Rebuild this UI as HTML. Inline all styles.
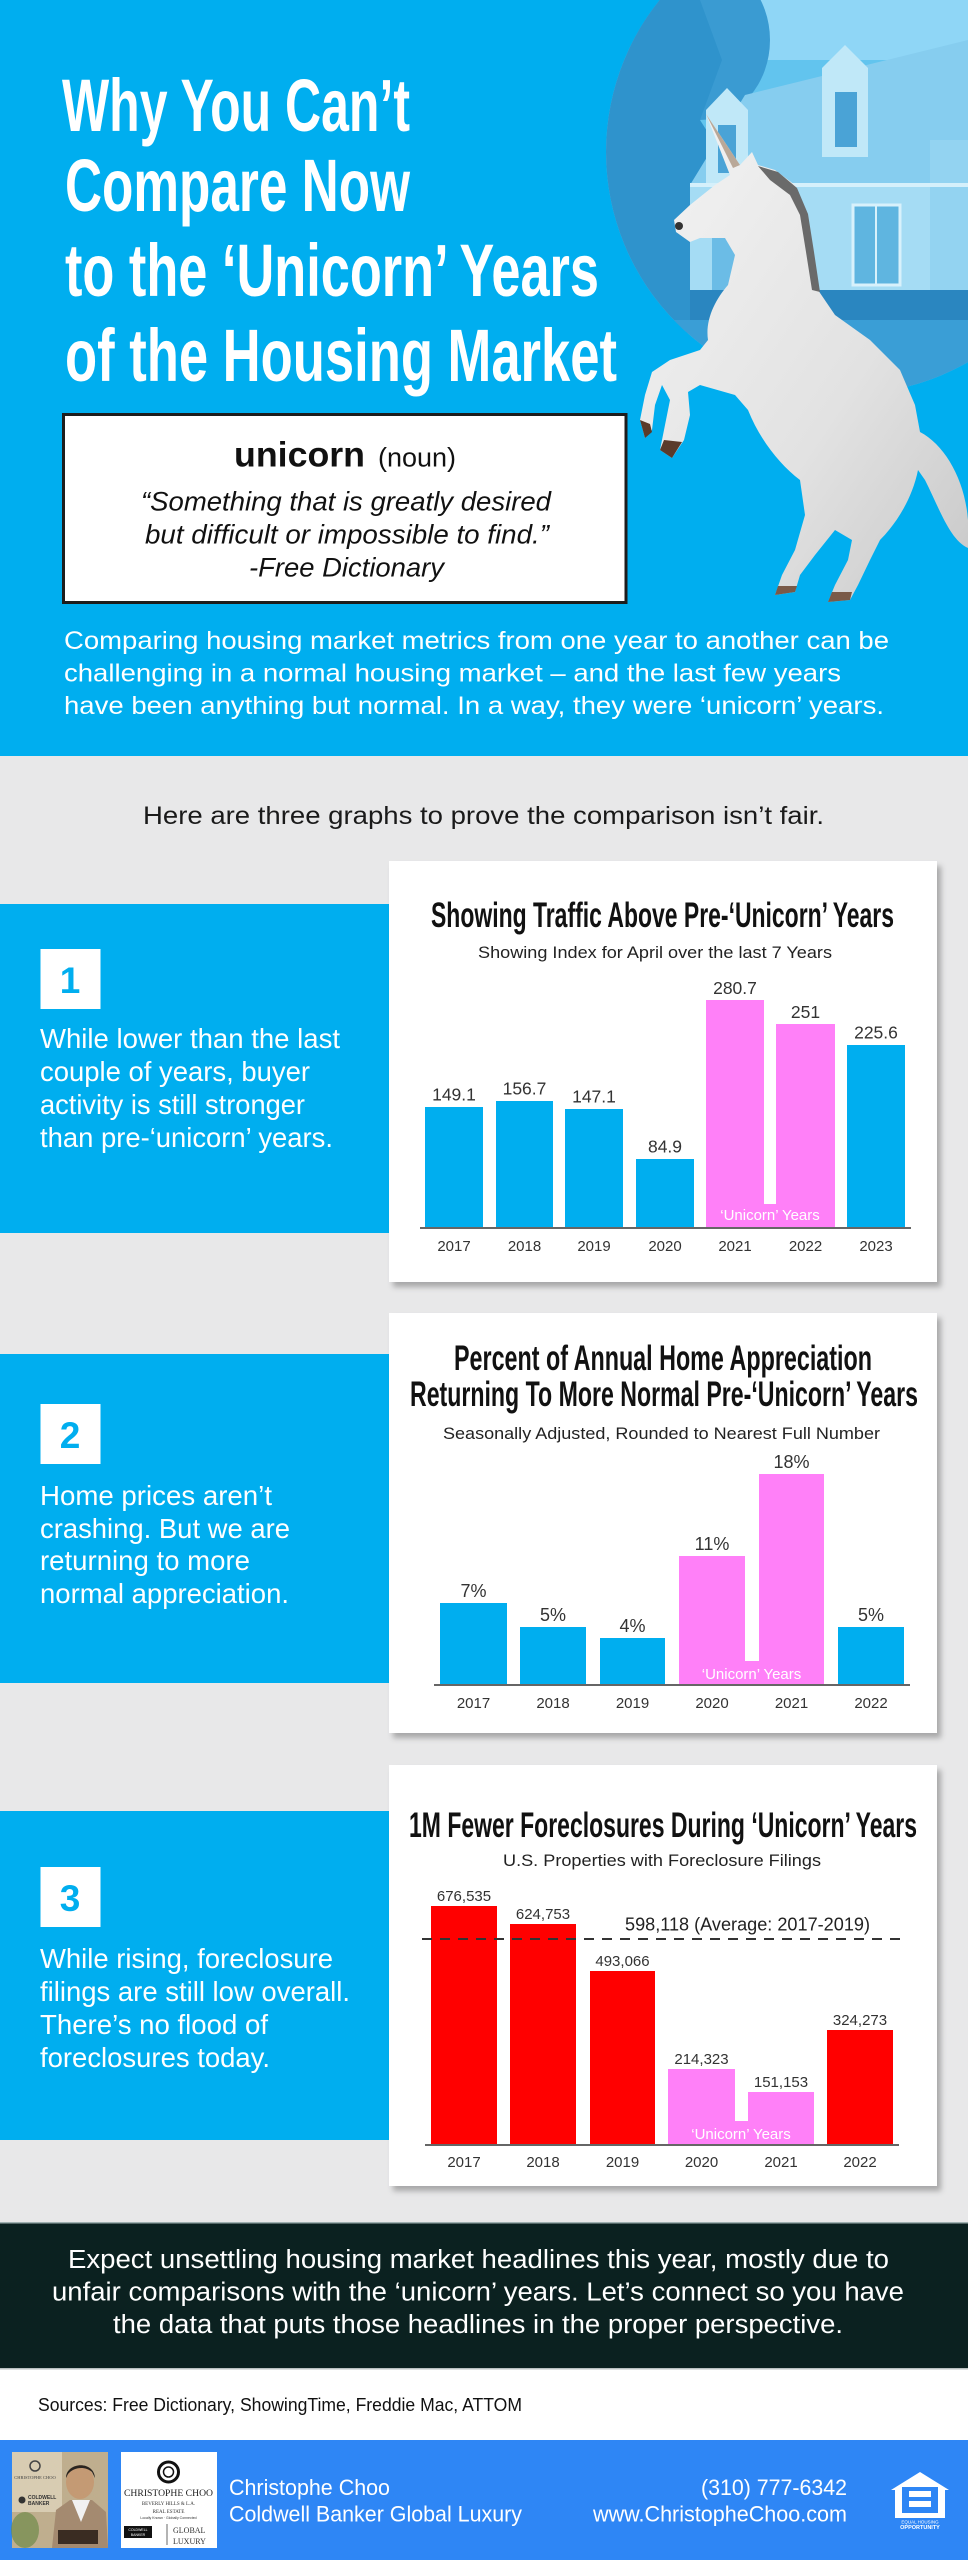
<!DOCTYPE html>
<html>
<head>
<meta charset="utf-8">
<style>
html,body{margin:0;padding:0;background:#e8e8e9;}
svg{display:block;}
.sans{font-family:"Liberation Sans",Arial,sans-serif;}
.cond{font-family:"Liberation Sans Narrow","Liberation Sans",Arial,sans-serif;font-weight:bold;}
.serif{font-family:"Liberation Serif",serif;}
</style>
</head>
<body>
<svg xmlns="http://www.w3.org/2000/svg" width="968" height="2560" viewBox="0 0 968 2560">
<defs>
  <filter id="sh" x="-5%" y="-5%" width="115%" height="115%">
    <feDropShadow dx="4" dy="5" stdDeviation="3" flood-color="#000" flood-opacity="0.28"/>
  </filter>
  <clipPath id="circ"><circle cx="848" cy="152" r="242"/></clipPath>
  <linearGradient id="horseG" x1="0" y1="0" x2="1" y2="1">
    <stop offset="0" stop-color="#f4f4f4"/>
    <stop offset="0.6" stop-color="#e2e2e2"/>
    <stop offset="1" stop-color="#c8c8c8"/>
  </linearGradient>
</defs>

<!-- backgrounds -->
<rect x="0" y="0" width="968" height="756" fill="#00aeef"/>
<rect x="0" y="756" width="968" height="1467" fill="#e8e8e9"/>
<rect x="0" y="2223" width="968" height="146" fill="#0b2120"/>
<rect x="0" y="2222" width="968" height="1.5" fill="#9fb0b0"/>
<rect x="0" y="2369" width="968" height="71" fill="#ffffff"/>
<rect x="0" y="2368" width="968" height="1.5" fill="#b8c0c0"/>
<rect x="0" y="2440" width="968" height="120" fill="#2e86f5"/>

<!-- header circle photo -->
<g clip-path="url(#circ)">
  <rect x="600" y="0" width="368" height="400" fill="#62c4ee"/>
  <rect x="760" y="0" width="208" height="60" fill="#8fd6f6"/>
  <ellipse cx="700" cy="40" rx="70" ry="80" fill="#3a9bd2"/>
  <path d="M600 0 L700 0 L722 60 L700 120 L738 180 L702 250 L692 330 L600 400 Z" fill="#2f93cc"/>
  <polygon points="690,185 745,95 968,40 968,185" fill="#86cdef"/>
  <rect x="690" y="185" width="278" height="108" fill="#a5dcf4"/>
  <rect x="930" y="140" width="38" height="155" fill="#93d3f1"/>
  <polygon points="706,186 706,110 727,88 748,110 748,186" fill="#c0e8f8"/>
  <rect x="718" y="125" width="18" height="48" fill="#4aa3d6"/>
  <polygon points="822,157 822,68 845,45 868,68 868,157" fill="#c0e8f8"/>
  <rect x="835" y="92" width="22" height="55" fill="#4aa3d6"/>
  <rect x="690" y="183" width="278" height="4" fill="#d5f0fb"/>
  <rect x="853" y="205" width="47" height="80" fill="#5fb5e0" stroke="#d8f1fb" stroke-width="3"/>
  <line x1="876" y1="205" x2="876" y2="285" stroke="#d8f1fb" stroke-width="2"/>
  <rect x="712" y="210" width="30" height="80" fill="#6bbce6"/>
  <rect x="690" y="290" width="278" height="32" fill="#2a86c0"/>
  <rect x="600" y="320" width="368" height="80" fill="#3a9ed6"/>
</g>

<!-- unicorn -->
<path d="M706 114 L740 165 L752 152 L758 165 L775 170 L795 185 L806 210 L812 250 L818 290 L835 315 L870 340 L900 370 L915 405 L920 432 C945 445 965 480 968 520 L968 548 C950 540 940 510 925 480 L918 470 C912 500 895 525 880 540 L870 560 L858 585 L850 600 L828 602 L835 585 L848 560 L852 540 L835 530 L815 555 L800 575 L795 592 L775 595 L782 575 L795 550 L805 515 L800 480 C780 465 760 440 748 410 L735 395 L700 385 L688 392 L690 415 L684 440 L672 458 L660 450 L664 430 L670 400 L662 385 L655 405 L652 430 L645 438 L640 420 L645 395 L652 372 L670 360 L700 350 L708 340 C705 320 715 300 728 285 L735 255 L725 238 L700 238 L690 242 L676 232 L674 220 L690 205 L715 185 L730 175 Z" fill="url(#horseG)"/>
<path d="M758 166 L778 172 L797 188 L808 214 L814 252 L820 292 L812 290 L806 252 L800 215 L790 195 L770 180 Z" fill="#6a6a6a"/>
<path d="M706 114 L740 165 L733 168 Z" fill="#b9a898"/>
<circle cx="679" cy="226" r="4" fill="#333"/>
<path d="M672 458 L660 450 L664 440 L682 442 Z" fill="#5a3a2a"/>
<path d="M645 438 L640 420 L650 424 L652 432 Z" fill="#5a3a2a"/>
<path d="M850 600 L828 602 L832 592 L852 592 Z" fill="#7a5a48"/>
<path d="M795 592 L775 595 L778 586 L797 586 Z" fill="#7a5a48"/>

<!-- header title -->
<g class="cond" fill="#ffffff" font-size="74">
  <text x="62" y="131" textLength="348" lengthAdjust="spacingAndGlyphs">Why You Can’t</text>
  <text x="65" y="211" textLength="345" lengthAdjust="spacingAndGlyphs">Compare Now</text>
  <text x="65" y="296" textLength="534" lengthAdjust="spacingAndGlyphs">to the ‘Unicorn’ Years</text>
  <text x="65" y="381" textLength="552" lengthAdjust="spacingAndGlyphs">of the Housing Market</text>
</g>

<!-- definition box -->
<rect x="63.5" y="414.5" width="562.5" height="188" fill="#ffffff" stroke="#1d1d1d" stroke-width="3"/>
<g class="sans" fill="#111">
  <text x="234" y="466.5" font-size="35" font-weight="bold" textLength="131" lengthAdjust="spacingAndGlyphs">unicorn</text>
  <text x="378" y="466.5" font-size="27" textLength="78" lengthAdjust="spacingAndGlyphs">(noun)</text>
  <text x="141" y="510.5" font-size="27" font-style="italic" textLength="410" lengthAdjust="spacingAndGlyphs">“Something that is greatly desired</text>
  <text x="145" y="543.5" font-size="27" font-style="italic" textLength="404" lengthAdjust="spacingAndGlyphs">but difficult or impossible to find.”</text>
  <text x="249" y="576.5" font-size="27" font-style="italic" textLength="195" lengthAdjust="spacingAndGlyphs">-Free Dictionary</text>
</g>

<!-- intro -->
<g class="sans" fill="#ffffff" font-size="25">
  <text x="64" y="649" textLength="825" lengthAdjust="spacingAndGlyphs">Comparing housing market metrics from one year to another can be</text>
  <text x="64" y="681.5" textLength="777" lengthAdjust="spacingAndGlyphs">challenging in a normal housing market – and the last few years</text>
  <text x="64" y="714" textLength="820" lengthAdjust="spacingAndGlyphs">have been anything but normal. In a way, they were ‘unicorn’ years.</text>
</g>

<text class="sans" x="143" y="824" font-size="25" fill="#1a1a1a" textLength="681" lengthAdjust="spacingAndGlyphs">Here are three graphs to prove the comparison isn’t fair.</text>

<!-- left panels -->
<rect x="0" y="904" width="400" height="329" fill="#00aeef"/>
<rect x="0" y="1354" width="400" height="329" fill="#00aeef"/>
<rect x="0" y="1811" width="400" height="329" fill="#00aeef"/>

<rect x="40.5" y="949" width="60" height="60" fill="#fff"/>
<rect x="40.5" y="1404" width="60" height="60" fill="#fff"/>
<rect x="40.5" y="1867" width="60" height="60" fill="#fff"/>
<g class="sans" font-weight="bold" font-size="37" fill="#00aeef" text-anchor="middle">
  <text x="70" y="993">1</text>
  <text x="70" y="1448">2</text>
  <text x="70" y="1911">3</text>
</g>

<g class="sans" fill="#ffffff" font-size="28">
  <text x="40" y="1048" textLength="300" lengthAdjust="spacingAndGlyphs">While lower than the last</text>
  <text x="40" y="1081" textLength="270" lengthAdjust="spacingAndGlyphs">couple of years, buyer</text>
  <text x="40" y="1114" textLength="265" lengthAdjust="spacingAndGlyphs">activity is still stronger</text>
  <text x="40" y="1147" textLength="293" lengthAdjust="spacingAndGlyphs">than pre-‘unicorn’ years.</text>

  <text x="40" y="1505" textLength="232" lengthAdjust="spacingAndGlyphs">Home prices aren’t</text>
  <text x="40" y="1538" textLength="250" lengthAdjust="spacingAndGlyphs">crashing. But we are</text>
  <text x="40" y="1570" textLength="210" lengthAdjust="spacingAndGlyphs">returning to more</text>
  <text x="40" y="1603" textLength="249" lengthAdjust="spacingAndGlyphs">normal appreciation.</text>

  <text x="40" y="1968" textLength="293" lengthAdjust="spacingAndGlyphs">While rising, foreclosure</text>
  <text x="40" y="2001" textLength="310" lengthAdjust="spacingAndGlyphs">filings are still low overall.</text>
  <text x="40" y="2034" textLength="228" lengthAdjust="spacingAndGlyphs">There’s no flood of</text>
  <text x="40" y="2067" textLength="230" lengthAdjust="spacingAndGlyphs">foreclosures today.</text>
</g>

<!-- cards -->
<rect x="389" y="861" width="548" height="421" fill="#fff" filter="url(#sh)"/>
<rect x="389" y="1313" width="548" height="420" fill="#fff" filter="url(#sh)"/>
<rect x="389" y="1765" width="548" height="421" fill="#fff" filter="url(#sh)"/>

<!-- chart 1 -->
<text class="cond" x="431" y="927" font-size="35" fill="#111" textLength="463" lengthAdjust="spacingAndGlyphs">Showing Traffic Above Pre-‘Unicorn’ Years</text>
<text class="sans" x="478" y="958" font-size="17" fill="#222" textLength="354" lengthAdjust="spacingAndGlyphs">Showing Index for April over the last 7 Years</text>
<g>
  <rect x="425" y="1107" width="58" height="121" fill="#00aeef"/>
  <rect x="496" y="1101" width="57" height="127" fill="#00aeef"/>
  <rect x="565" y="1109" width="58" height="119" fill="#00aeef"/>
  <rect x="636" y="1159" width="58" height="69" fill="#00aeef"/>
  <rect x="706" y="1000" width="58" height="228" fill="#ff80f8"/>
  <rect x="776" y="1024" width="59" height="204" fill="#ff80f8"/>
  <rect x="706" y="1204" width="129" height="24" fill="#ff80f8"/>
  <rect x="847" y="1045" width="58" height="183" fill="#00aeef"/>
  <line x1="420" y1="1228" x2="911" y2="1228" stroke="#666" stroke-width="2"/>
</g>
<g class="sans" font-size="17.5" fill="#333" text-anchor="middle">
  <text x="454" y="1100.5">149.1</text>
  <text x="524.5" y="1094.5">156.7</text>
  <text x="594" y="1102.5">147.1</text>
  <text x="665" y="1152.5">84.9</text>
  <text x="735" y="994">280.7</text>
  <text x="805.5" y="1018">251</text>
  <text x="876" y="1038.5">225.6</text>
</g>
<text class="sans" x="770" y="1220" font-size="15" fill="#fff" text-anchor="middle">‘Unicorn’ Years</text>
<g class="sans" font-size="15" fill="#333" text-anchor="middle">
  <text x="454" y="1251">2017</text>
  <text x="524.5" y="1251">2018</text>
  <text x="594" y="1251">2019</text>
  <text x="665" y="1251">2020</text>
  <text x="735" y="1251">2021</text>
  <text x="805.5" y="1251">2022</text>
  <text x="876" y="1251">2023</text>
</g>

<!-- chart 2 -->
<text class="cond" x="454" y="1370" font-size="35" fill="#111" textLength="418" lengthAdjust="spacingAndGlyphs">Percent of Annual Home Appreciation</text>
<text class="cond" x="410" y="1406" font-size="35" fill="#111" textLength="508" lengthAdjust="spacingAndGlyphs">Returning To More Normal Pre-‘Unicorn’ Years</text>
<text class="sans" x="443" y="1439" font-size="17" fill="#222" textLength="437" lengthAdjust="spacingAndGlyphs">Seasonally Adjusted, Rounded to Nearest Full Number</text>
<g>
  <rect x="440" y="1603" width="67" height="82" fill="#00aeef"/>
  <rect x="520" y="1627" width="66" height="58" fill="#00aeef"/>
  <rect x="600" y="1638" width="65" height="47" fill="#00aeef"/>
  <rect x="679" y="1556" width="66" height="129" fill="#ff80f8"/>
  <rect x="759" y="1474" width="65" height="211" fill="#ff80f8"/>
  <rect x="679" y="1661" width="145" height="24" fill="#ff80f8"/>
  <rect x="838" y="1627" width="66" height="58" fill="#00aeef"/>
  <line x1="434" y1="1685" x2="910" y2="1685" stroke="#666" stroke-width="2"/>
</g>
<g class="sans" font-size="18" fill="#333" text-anchor="middle">
  <text x="473.5" y="1597">7%</text>
  <text x="553" y="1621">5%</text>
  <text x="632.5" y="1632">4%</text>
  <text x="712" y="1550">11%</text>
  <text x="791.5" y="1468">18%</text>
  <text x="871" y="1621">5%</text>
</g>
<text class="sans" x="751.5" y="1679" font-size="15" fill="#fff" text-anchor="middle">‘Unicorn’ Years</text>
<g class="sans" font-size="15" fill="#333" text-anchor="middle">
  <text x="473.5" y="1708">2017</text>
  <text x="553" y="1708">2018</text>
  <text x="632.5" y="1708">2019</text>
  <text x="712" y="1708">2020</text>
  <text x="791.5" y="1708">2021</text>
  <text x="871" y="1708">2022</text>
</g>

<!-- chart 3 -->
<text class="cond" x="409" y="1837" font-size="35" fill="#111" textLength="508" lengthAdjust="spacingAndGlyphs">1M Fewer Foreclosures During ‘Unicorn’ Years</text>
<text class="sans" x="503" y="1866" font-size="17" fill="#222" textLength="318" lengthAdjust="spacingAndGlyphs">U.S. Properties with Foreclosure Filings</text>
<g>
  <rect x="431" y="1906" width="66" height="239" fill="#ff0000"/>
  <rect x="510" y="1924" width="66" height="221" fill="#ff0000"/>
  <rect x="590" y="1971" width="65" height="174" fill="#ff0000"/>
  <rect x="668" y="2069" width="67" height="76" fill="#ff80f8"/>
  <rect x="748" y="2092" width="66" height="53" fill="#ff80f8"/>
  <rect x="668" y="2121" width="146" height="24" fill="#ff80f8"/>
  <rect x="827" y="2030" width="66" height="115" fill="#ff0000"/>
  <line x1="425" y1="2145" x2="899" y2="2145" stroke="#666" stroke-width="2"/>
  <line x1="422" y1="1939" x2="903" y2="1939" stroke="#333" stroke-width="2" stroke-dasharray="10,8"/>
</g>
<text class="sans" x="625" y="1930.5" font-size="18" fill="#222" textLength="245" lengthAdjust="spacingAndGlyphs">598,118 (Average: 2017-2019)</text>
<g class="sans" font-size="15" fill="#333" text-anchor="middle">
  <text x="464" y="1901">676,535</text>
  <text x="543" y="1919">624,753</text>
  <text x="622.5" y="1966">493,066</text>
  <text x="701.5" y="2064">214,323</text>
  <text x="781" y="2087">151,153</text>
  <text x="860" y="2025">324,273</text>
</g>
<text class="sans" x="741" y="2139" font-size="15" fill="#fff" text-anchor="middle">‘Unicorn’ Years</text>
<g class="sans" font-size="15" fill="#333" text-anchor="middle">
  <text x="464" y="2167">2017</text>
  <text x="543" y="2167">2018</text>
  <text x="622.5" y="2167">2019</text>
  <text x="701.5" y="2167">2020</text>
  <text x="781" y="2167">2021</text>
  <text x="860" y="2167">2022</text>
</g>

<!-- bottom message -->
<g class="sans" fill="#ffffff" font-size="25.5">
  <text x="68" y="2268" textLength="821" lengthAdjust="spacingAndGlyphs">Expect unsettling housing market headlines this year, mostly due to</text>
  <text x="52" y="2300.5" textLength="852" lengthAdjust="spacingAndGlyphs">unfair comparisons with the ‘unicorn’ years. Let’s connect so you have</text>
  <text x="113" y="2333" textLength="730" lengthAdjust="spacingAndGlyphs">the data that puts those headlines in the proper perspective.</text>
</g>

<text class="sans" x="38" y="2411" font-size="18" fill="#111" textLength="484" lengthAdjust="spacingAndGlyphs">Sources: Free Dictionary, ShowingTime, Freddie Mac, ATTOM</text>

<!-- footer photo -->
<rect x="12" y="2452" width="96" height="96" fill="#bfae8e"/>
<rect x="12" y="2452" width="50" height="60" fill="#d8ccb2"/>
<ellipse cx="25" cy="2530" rx="14" ry="18" fill="#6f8a4a" opacity="0.7"/>
<path d="M52 2548 L56 2510 L70 2500 L92 2500 L106 2512 L108 2548 Z" fill="#a48a70"/>
<path d="M72 2500 L81 2522 L90 2500 Z" fill="#f1f1f1"/>
<ellipse cx="80" cy="2482" rx="14" ry="17" fill="#c49a74"/>
<path d="M66 2478 C66 2462 94 2460 95 2478 L92 2472 C85 2466 74 2467 68 2474 Z" fill="#2a2520"/>
<rect x="58" y="2530" width="40" height="14" fill="#3a2c22"/>
<circle cx="35" cy="2466" r="5" fill="none" stroke="#444" stroke-width="1.5"/>
<text class="serif" x="35" y="2479" font-size="4.5" fill="#444" text-anchor="middle">CHRISTOPHE CHOO</text>
<circle cx="22" cy="2500" r="3.5" fill="#333"/>
<text class="sans" x="28" y="2499" font-size="5" font-weight="bold" fill="#333">COLDWELL</text>
<text class="sans" x="28" y="2505" font-size="5" font-weight="bold" fill="#333">BANKER</text>

<!-- footer logo box -->
<rect x="121" y="2452" width="96" height="96" fill="#ffffff"/>
<circle cx="168.5" cy="2472" r="10" fill="none" stroke="#111" stroke-width="3"/>
<circle cx="168.5" cy="2472" r="5" fill="none" stroke="#111" stroke-width="1.5"/>
<text class="serif" x="124" y="2496" font-size="9" fill="#222" textLength="89" lengthAdjust="spacingAndGlyphs">CHRISTOPHE CHOO</text>
<text class="serif" x="168.5" y="2505" font-size="5" fill="#333" text-anchor="middle">BEVERLY HILLS &amp; L.A.</text>
<text class="serif" x="168.5" y="2513" font-size="5" fill="#333" text-anchor="middle">REAL ESTATE</text>
<text class="sans" x="168.5" y="2519" font-size="3.5" fill="#333" text-anchor="middle">Locally Known · Globally Connected</text>
<rect x="124" y="2526" width="28" height="12" fill="#111"/>
<text class="sans" x="138" y="2531" font-size="3.5" fill="#fff" text-anchor="middle">COLDWELL</text>
<text class="sans" x="138" y="2536" font-size="3.5" fill="#fff" text-anchor="middle">BANKER</text>
<line x1="167" y1="2524" x2="167" y2="2545" stroke="#444" stroke-width="0.8"/>
<text class="serif" x="173" y="2533" font-size="8" fill="#333">GLOBAL</text>
<text class="serif" x="173" y="2544" font-size="8" fill="#333">LUXURY</text>

<!-- footer text -->
<g class="sans" fill="#ffffff" font-size="22">
  <text x="229" y="2495" textLength="161" lengthAdjust="spacingAndGlyphs">Christophe Choo</text>
  <text x="229" y="2521.5" textLength="293" lengthAdjust="spacingAndGlyphs">Coldwell Banker Global Luxury</text>
  <text x="701" y="2495" textLength="146" lengthAdjust="spacingAndGlyphs">(310) 777-6342</text>
  <text x="593" y="2521.5" textLength="254" lengthAdjust="spacingAndGlyphs">www.ChristopheChoo.com</text>
</g>

<!-- equal housing -->
<polygon points="891,2490 920,2472 949,2490 945,2490 945,2518 895,2518 895,2490" fill="#ffffff"/>
<rect x="902" y="2487" width="36" height="26" fill="#2e86f5"/>
<rect x="909" y="2491" width="22" height="6" fill="#ffffff"/>
<rect x="909" y="2501" width="22" height="6" fill="#ffffff"/>
<text class="sans" x="920" y="2523.5" font-size="4.5" fill="#fff" text-anchor="middle">EQUAL HOUSING</text>
<text class="sans" x="920" y="2529" font-size="5.5" font-weight="bold" fill="#fff" text-anchor="middle">OPPORTUNITY</text>
</svg>
</body>
</html>
